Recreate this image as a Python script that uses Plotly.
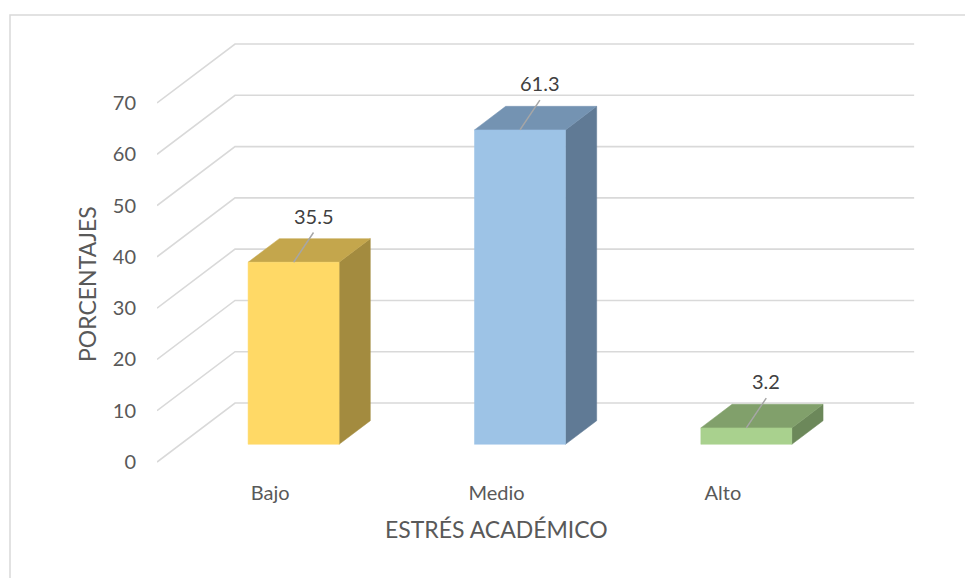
import plotly.graph_objects as go

# Academic stress levels (percent of students)
categories = ["Bajo", "Medio", "Alto"]
percentages = [35.5, 61.3, 3.2]
y_ticks = [0, 10, 20, 30, 40, 50, 60, 70]

front_colors = ["#FFD966", "#9DC3E6", "#A9D18E"]
top_colors = ["#C4A64C", "#7493B2", "#81A06B"]
side_colors = ["#A38B3F", "#607A95", "#6C885A"]

TEXT = "#595959"
LABEL = "#404040"
GRID = "#D9D9D9"
FONT = "Lato"

# Oblique 3-D projection: one full unit of depth shifts a point this much
DEPTH_X = 0.3447   # in category units
DEPTH_Y = 11.5     # in value units
BAR_W = 0.402      # bar width, category units
D0, D1 = 0.3, 0.7  # bar front/back depth fractions

# Plot area in pixels and its data ranges
W, H = 965, 578
PX0, PX1, PY0, PY1 = 157, 940, 20, 470
X_RANGE = [-0.5, 2.9589]
Y_RANGE = [-1.56, 86.18]


def paper_x(px):
    return (px - PX0) / (PX1 - PX0)


def paper_y(py):
    return (PY1 - py) / (PY1 - PY0)


fig = go.Figure()

# Walls: gridlines bend from the left side wall onto the back wall
left = X_RANGE[0]
right = len(categories) - 0.5
for t in y_ticks:
    fig.add_trace(go.Scatter(
        x=[left, left + DEPTH_X, right + DEPTH_X],
        y=[t, t + DEPTH_Y, t + DEPTH_Y],
        mode="lines", line=dict(color=GRID, width=1.6),
        hoverinfo="skip", showlegend=False))


def poly(xs, ys, color):
    fig.add_trace(go.Scatter(
        x=xs + [xs[0]], y=ys + [ys[0]], mode="lines", fill="toself",
        fillcolor=color, line=dict(color=color, width=0.5),
        hoverinfo="skip", showlegend=False))


for i, v in enumerate(percentages):
    c = i + D0 * DEPTH_X
    xl, xr = c - BAR_W / 2, c + BAR_W / 2
    y_base = D0 * DEPTH_Y
    y_top = v + D0 * DEPTH_Y
    dx = (D1 - D0) * DEPTH_X
    dy = (D1 - D0) * DEPTH_Y
    # side face
    poly([xr, xr, xr + dx, xr + dx],
         [y_base, y_top, y_top + dy, y_base + dy], side_colors[i])
    # top face
    poly([xl, xr, xr + dx, xl + dx],
         [y_top, y_top, y_top + dy, y_top + dy], top_colors[i])
    # front face
    poly([xl, xr, xr, xl], [y_base, y_base, y_top, y_top], front_colors[i])

    # data label with leader line to the top of the bar
    lx, ly = c + 0.088, y_top + 9.1
    fig.add_trace(go.Scatter(
        x=[c, lx], y=[y_top, ly - 3.3], mode="lines",
        line=dict(color="#A6A6A6", width=1.5),
        hoverinfo="skip", showlegend=False))
    fig.add_annotation(x=lx, y=ly, xref="x", yref="y", text=f"{v}",
                       xanchor="center", yanchor="middle",
                       showarrow=False, font=dict(family=FONT, size=20, color=LABEL))

# Axis titles
fig.add_annotation(x=1, xref="x", y=paper_y(529), yref="paper",
                   xanchor="center", yanchor="middle",
                   text="ESTRÉS ACADÉMICO", showarrow=False,
                   font=dict(family=FONT, size=23, color=TEXT))
fig.add_annotation(x=paper_x(87), xref="paper", y=paper_y(284), yref="paper",
                   xanchor="center", yanchor="middle",
                   text="PORCENTAJES", textangle=-90, showarrow=False,
                   font=dict(family=FONT, size=23, color=TEXT))

# Chart border
fig.add_shape(type="rect", xref="paper", yref="paper",
              x0=paper_x(10), x1=paper_x(990), y0=paper_y(600), y1=paper_y(15),
              line=dict(color=GRID, width=1.5), layer="below")

fig.update_layout(
    width=W, height=H,
    margin=dict(l=PX0, r=W - PX1, t=PY0, b=H - PY1),
    paper_bgcolor="white", plot_bgcolor="white",
    font=dict(family=FONT, color=TEXT),
    xaxis=dict(range=X_RANGE, tickmode="array", tickvals=list(range(len(categories))),
               ticktext=categories, showgrid=False, zeroline=False, showline=False,
               ticks="", ticklabelstandoff=9, tickfont=dict(size=20, color=TEXT),
               fixedrange=True),
    yaxis=dict(range=Y_RANGE, tickmode="array", tickvals=y_ticks,
               showgrid=False, zeroline=False, showline=False, ticks="",
               ticklabelstandoff=20, tickfont=dict(size=20, color=TEXT),
               fixedrange=True),
    showlegend=False,
)

fig.write_html("out.html")
